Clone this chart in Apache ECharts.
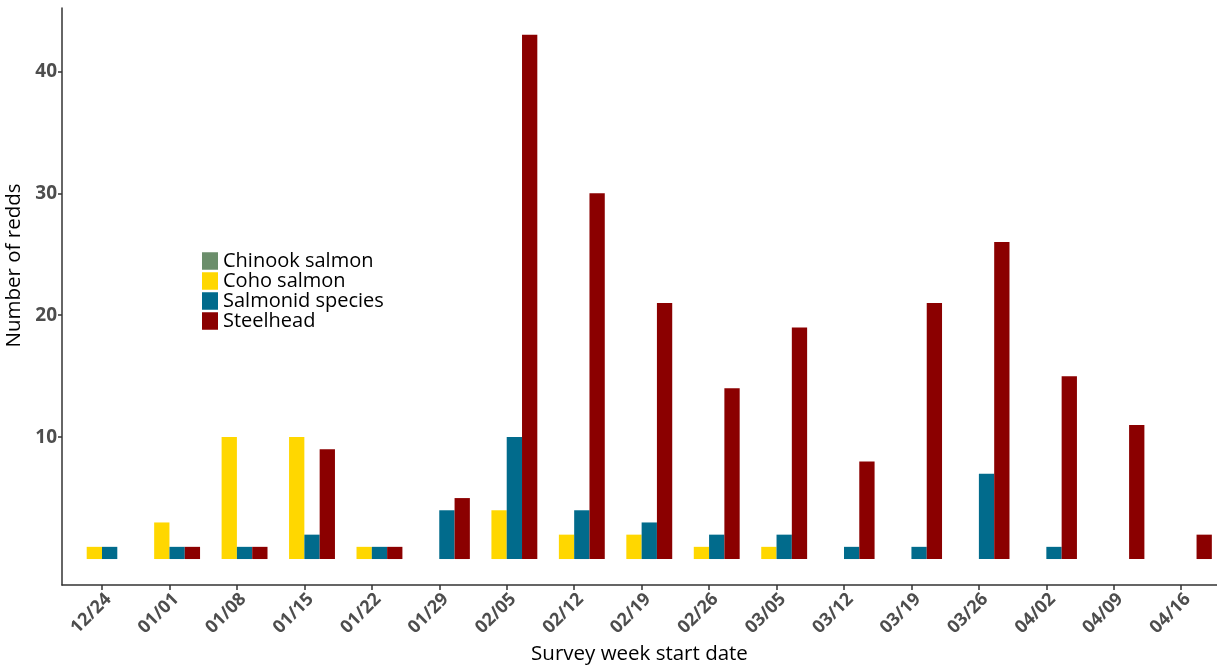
<!DOCTYPE html>
<html>
<head>
<meta charset="utf-8">
<script src="https://cdn.jsdelivr.net/npm/echarts@6/dist/echarts.min.js"></script>
<style>
html,body{margin:0;padding:0;background:#fff;}
#chart{width:1217px;height:669px;}
</style>
</head>
<body>
<div id="chart"></div>
<script>
const weeks = ['12/24','01/01','01/08','01/15','01/22','01/29','02/05','02/12','02/19','02/26','03/05','03/12','03/19','03/26','04/02','04/09','04/16'];
const chinook  = [0,0,0,0,0,0,0,0,0,0,0,0,0,0,0,0,0];
const coho     = [1,3,10,10,1,0,4,2,2,1,1,0,0,0,0,0,0];
const salmonid = [1,1,1,2,1,4,10,4,3,2,2,1,1,7,1,0,0];
const steelhead= [0,1,1,9,1,5,43,30,21,14,19,8,21,26,15,11,2];
const yTicks = [10,20,30,40];

const font = 'Open Sans';
const toPairs = arr => arr.map((v,i)=>[i,v]);
const idx = weeks.map((w,i)=>i);

function bar(name, arr, color){
  return {name, type:'bar', data: toPairs(arr), barWidth:15.3, barGap:'0%',
    itemStyle:{color}, emphasis:{disabled:true}};
}

const chart = echarts.init(document.getElementById('chart'), null, {renderer:'canvas'});
chart.setOption({
  animation:false,
  backgroundColor:'#fff',
  grid:{left:62, right:0, top:8, bottom:84, containLabel:false, outerBoundsMode:'none'},
  legend:{
    orient:'vertical', left:202, top:251, padding:0, itemWidth:16, itemHeight:17.5, itemGap:0,
    icon:'rect',
    textStyle:{fontFamily:font, fontSize:20, lineHeight:17, color:'#000'},
    data:['Chinook salmon','Coho salmon','Salmonid species','Steelhead']
  },
  xAxis:{
    type:'value', min:-0.593, max:16.53,
    name:'Survey week start date', nameLocation:'middle', nameGap:56,
    nameTextStyle:{fontFamily:font, fontSize:20.5, color:'#000'},
    splitLine:{show:false},
    axisLine:{show:true, onZero:false, lineStyle:{color:'#333', width:1.5}},
    axisTick:{show:true, customValues:idx, length:5, lineStyle:{color:'#333', width:1.5}},
    axisLabel:{customValues:idx, rotate:45, margin:5, align:'right', verticalAlign:'top',
      fontFamily:font, fontSize:18, fontWeight:'bold', color:'#4d4d4d',
      formatter:v=>weeks[Math.round(v)]}
  },
  yAxis:{
    type:'value', min:-2.13, max:45.2,
    name:'Number of redds', nameLocation:'middle', nameGap:34, nameRotate:90,
    nameTextStyle:{fontFamily:font, fontSize:20.5, color:'#000', padding:[0,0,0,62]},
    splitLine:{show:false},
    axisLine:{show:true, onZero:false, lineStyle:{color:'#333', width:1.5}},
    axisTick:{show:true, customValues:yTicks, length:4, lineStyle:{color:'#333', width:1.5}},
    axisLabel:{customValues:yTicks, margin:5, fontFamily:font, fontSize:19, fontWeight:'bold', color:'#4d4d4d'}
  },
  series:[
    bar('Chinook salmon', chinook, '#6B8E6B'),
    bar('Coho salmon', coho, '#FFD700'),
    bar('Salmonid species', salmonid, '#016B8C'),
    bar('Steelhead', steelhead, '#8B0000')
  ]
});
</script>
</body>
</html>
